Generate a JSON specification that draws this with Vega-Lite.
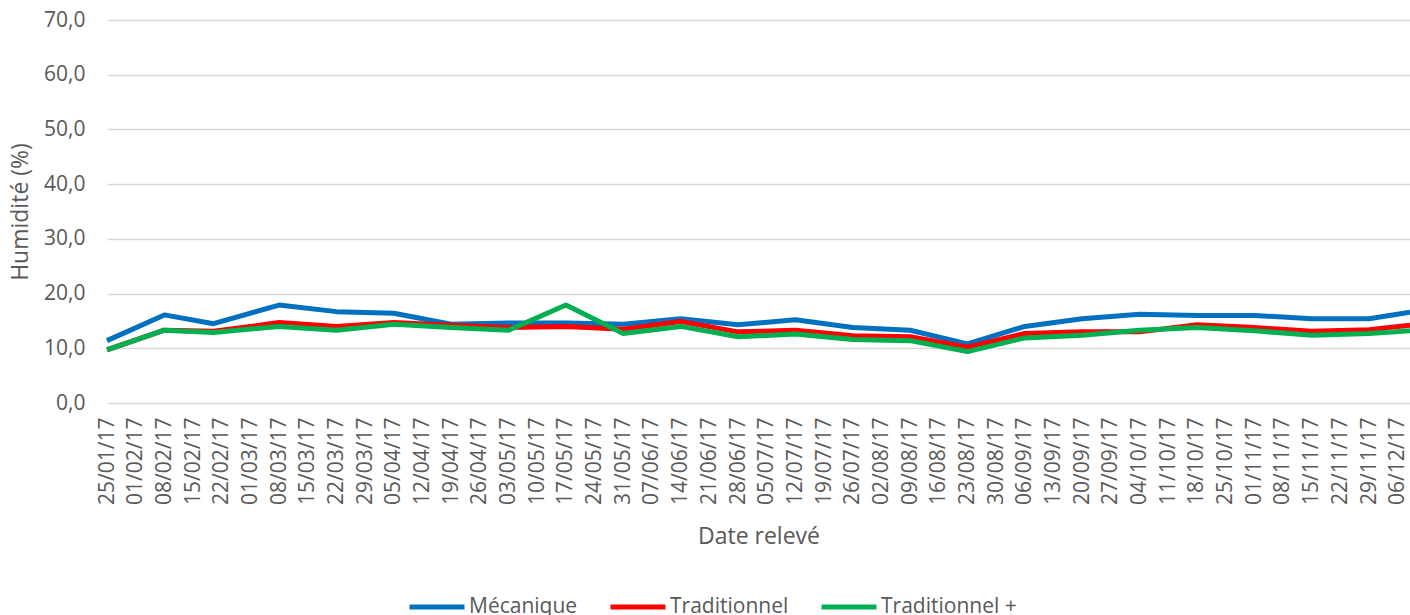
{
  "$schema": "https://vega.github.io/schema/vega-lite/v6.json",
  "width": 1303,
  "height": 383,
  "autosize": {"type": "none"},
  "padding": {"left": 107, "top": 20, "right": 0, "bottom": 212},
  "background": "white",
  "config": {
    "view": {"stroke": null},
    "font": "Open Sans"
  },
  "data": {
    "values": [
      {"date": "2017-01-25", "serie": "Mécanique", "value": 11.4},
      {"date": "2017-02-08", "serie": "Mécanique", "value": 16.1},
      {"date": "2017-02-20", "serie": "Mécanique", "value": 14.5},
      {"date": "2017-03-08", "serie": "Mécanique", "value": 17.9},
      {"date": "2017-03-22", "serie": "Mécanique", "value": 16.7},
      {"date": "2017-04-05", "serie": "Mécanique", "value": 16.4},
      {"date": "2017-04-19", "serie": "Mécanique", "value": 14.4},
      {"date": "2017-05-03", "serie": "Mécanique", "value": 14.6},
      {"date": "2017-05-17", "serie": "Mécanique", "value": 14.6},
      {"date": "2017-05-31", "serie": "Mécanique", "value": 14.4},
      {"date": "2017-06-14", "serie": "Mécanique", "value": 15.4},
      {"date": "2017-06-28", "serie": "Mécanique", "value": 14.3},
      {"date": "2017-07-12", "serie": "Mécanique", "value": 15.2},
      {"date": "2017-07-26", "serie": "Mécanique", "value": 13.8},
      {"date": "2017-08-09", "serie": "Mécanique", "value": 13.3},
      {"date": "2017-08-23", "serie": "Mécanique", "value": 10.8},
      {"date": "2017-09-06", "serie": "Mécanique", "value": 14.0},
      {"date": "2017-09-20", "serie": "Mécanique", "value": 15.4},
      {"date": "2017-10-04", "serie": "Mécanique", "value": 16.2},
      {"date": "2017-10-18", "serie": "Mécanique", "value": 16.0},
      {"date": "2017-11-01", "serie": "Mécanique", "value": 16.0},
      {"date": "2017-11-15", "serie": "Mécanique", "value": 15.4},
      {"date": "2017-11-29", "serie": "Mécanique", "value": 15.4},
      {"date": "2017-12-09", "serie": "Mécanique", "value": 16.6},
      {"date": "2017-01-25", "serie": "Traditionnel", "value": 9.7},
      {"date": "2017-02-08", "serie": "Traditionnel", "value": 13.3},
      {"date": "2017-02-20", "serie": "Traditionnel", "value": 13.1},
      {"date": "2017-03-08", "serie": "Traditionnel", "value": 14.7},
      {"date": "2017-03-22", "serie": "Traditionnel", "value": 14.0},
      {"date": "2017-04-05", "serie": "Traditionnel", "value": 14.7},
      {"date": "2017-04-19", "serie": "Traditionnel", "value": 14.2},
      {"date": "2017-05-03", "serie": "Traditionnel", "value": 13.8},
      {"date": "2017-05-17", "serie": "Traditionnel", "value": 14.0},
      {"date": "2017-05-31", "serie": "Traditionnel", "value": 13.5},
      {"date": "2017-06-14", "serie": "Traditionnel", "value": 14.9},
      {"date": "2017-06-28", "serie": "Traditionnel", "value": 13.0},
      {"date": "2017-07-12", "serie": "Traditionnel", "value": 13.3},
      {"date": "2017-07-26", "serie": "Traditionnel", "value": 12.3},
      {"date": "2017-08-09", "serie": "Traditionnel", "value": 12.1},
      {"date": "2017-08-23", "serie": "Traditionnel", "value": 10.2},
      {"date": "2017-09-06", "serie": "Traditionnel", "value": 12.7},
      {"date": "2017-09-20", "serie": "Traditionnel", "value": 13.0},
      {"date": "2017-10-04", "serie": "Traditionnel", "value": 13.0},
      {"date": "2017-10-18", "serie": "Traditionnel", "value": 14.3},
      {"date": "2017-11-01", "serie": "Traditionnel", "value": 13.8},
      {"date": "2017-11-15", "serie": "Traditionnel", "value": 13.1},
      {"date": "2017-11-29", "serie": "Traditionnel", "value": 13.4},
      {"date": "2017-12-09", "serie": "Traditionnel", "value": 14.2},
      {"date": "2017-01-25", "serie": "Traditionnel +", "value": 9.7},
      {"date": "2017-02-08", "serie": "Traditionnel +", "value": 13.3},
      {"date": "2017-02-20", "serie": "Traditionnel +", "value": 12.9},
      {"date": "2017-03-08", "serie": "Traditionnel +", "value": 14.0},
      {"date": "2017-03-22", "serie": "Traditionnel +", "value": 13.3},
      {"date": "2017-04-05", "serie": "Traditionnel +", "value": 14.4},
      {"date": "2017-04-19", "serie": "Traditionnel +", "value": 13.8},
      {"date": "2017-05-03", "serie": "Traditionnel +", "value": 13.3},
      {"date": "2017-05-17", "serie": "Traditionnel +", "value": 17.9},
      {"date": "2017-05-31", "serie": "Traditionnel +", "value": 12.7},
      {"date": "2017-06-14", "serie": "Traditionnel +", "value": 14.0},
      {"date": "2017-06-28", "serie": "Traditionnel +", "value": 12.1},
      {"date": "2017-07-12", "serie": "Traditionnel +", "value": 12.6},
      {"date": "2017-07-26", "serie": "Traditionnel +", "value": 11.6},
      {"date": "2017-08-09", "serie": "Traditionnel +", "value": 11.4},
      {"date": "2017-08-23", "serie": "Traditionnel +", "value": 9.4},
      {"date": "2017-09-06", "serie": "Traditionnel +", "value": 11.9},
      {"date": "2017-09-20", "serie": "Traditionnel +", "value": 12.4},
      {"date": "2017-10-04", "serie": "Traditionnel +", "value": 13.3},
      {"date": "2017-10-18", "serie": "Traditionnel +", "value": 13.8},
      {"date": "2017-11-01", "serie": "Traditionnel +", "value": 13.2},
      {"date": "2017-11-15", "serie": "Traditionnel +", "value": 12.4},
      {"date": "2017-11-29", "serie": "Traditionnel +", "value": 12.7},
      {"date": "2017-12-09", "serie": "Traditionnel +", "value": 13.2}
    ]
  },
  "mark": {"type": "line", "strokeWidth": 5, "strokeJoin": "round", "strokeCap": "butt"},
  "encoding": {
    "x": {
      "field": "date",
      "type": "temporal",
      "scale": {
        "type": "utc",
        "domain": [
          {"year": 2017, "month": 1, "date": 25, "utc": true},
          {"year": 2017, "month": 12, "date": 9, "utc": true}
        ],
        "nice": false
      },
      "axis": {
        "title": "Date relevé",
        "titleFontSize": 23,
        "titleFontWeight": "normal",
        "titleColor": "#595959",
        "titleX": 651.5,
        "titleY": 133,
        "titleBaseline": "middle",
        "titleAlign": "center",
        "format": "%d/%m/%y",
        "labelAngle": 270,
        "labelAlign": "right",
        "labelBaseline": "middle",
        "labelFontSize": 21,
        "labelColor": "#595959",
        "labelPadding": 14,
        "labelOverlap": false,
        "labelBound": false,
        "labelFlush": false,
        "ticks": false,
        "domain": false,
        "grid": false,
        "values": [
          {"year": 2017, "month": 1, "date": 25, "utc": true},
          {"year": 2017, "month": 2, "date": 1, "utc": true},
          {"year": 2017, "month": 2, "date": 8, "utc": true},
          {"year": 2017, "month": 2, "date": 15, "utc": true},
          {"year": 2017, "month": 2, "date": 22, "utc": true},
          {"year": 2017, "month": 3, "date": 1, "utc": true},
          {"year": 2017, "month": 3, "date": 8, "utc": true},
          {"year": 2017, "month": 3, "date": 15, "utc": true},
          {"year": 2017, "month": 3, "date": 22, "utc": true},
          {"year": 2017, "month": 3, "date": 29, "utc": true},
          {"year": 2017, "month": 4, "date": 5, "utc": true},
          {"year": 2017, "month": 4, "date": 12, "utc": true},
          {"year": 2017, "month": 4, "date": 19, "utc": true},
          {"year": 2017, "month": 4, "date": 26, "utc": true},
          {"year": 2017, "month": 5, "date": 3, "utc": true},
          {"year": 2017, "month": 5, "date": 10, "utc": true},
          {"year": 2017, "month": 5, "date": 17, "utc": true},
          {"year": 2017, "month": 5, "date": 24, "utc": true},
          {"year": 2017, "month": 5, "date": 31, "utc": true},
          {"year": 2017, "month": 6, "date": 7, "utc": true},
          {"year": 2017, "month": 6, "date": 14, "utc": true},
          {"year": 2017, "month": 6, "date": 21, "utc": true},
          {"year": 2017, "month": 6, "date": 28, "utc": true},
          {"year": 2017, "month": 7, "date": 5, "utc": true},
          {"year": 2017, "month": 7, "date": 12, "utc": true},
          {"year": 2017, "month": 7, "date": 19, "utc": true},
          {"year": 2017, "month": 7, "date": 26, "utc": true},
          {"year": 2017, "month": 8, "date": 2, "utc": true},
          {"year": 2017, "month": 8, "date": 9, "utc": true},
          {"year": 2017, "month": 8, "date": 16, "utc": true},
          {"year": 2017, "month": 8, "date": 23, "utc": true},
          {"year": 2017, "month": 8, "date": 30, "utc": true},
          {"year": 2017, "month": 9, "date": 6, "utc": true},
          {"year": 2017, "month": 9, "date": 13, "utc": true},
          {"year": 2017, "month": 9, "date": 20, "utc": true},
          {"year": 2017, "month": 9, "date": 27, "utc": true},
          {"year": 2017, "month": 10, "date": 4, "utc": true},
          {"year": 2017, "month": 10, "date": 11, "utc": true},
          {"year": 2017, "month": 10, "date": 18, "utc": true},
          {"year": 2017, "month": 10, "date": 25, "utc": true},
          {"year": 2017, "month": 11, "date": 1, "utc": true},
          {"year": 2017, "month": 11, "date": 8, "utc": true},
          {"year": 2017, "month": 11, "date": 15, "utc": true},
          {"year": 2017, "month": 11, "date": 22, "utc": true},
          {"year": 2017, "month": 11, "date": 29, "utc": true},
          {"year": 2017, "month": 12, "date": 6, "utc": true}
        ]
      }
    },
    "y": {
      "field": "value",
      "type": "quantitative",
      "scale": {"domain": [0, 70], "nice": false},
      "axis": {
        "title": "Humidité (%)",
        "titleFontSize": 23,
        "titleFontWeight": "normal",
        "titleColor": "#595959",
        "titleAngle": 270,
        "titleX": -87,
        "titleY": 191.5,
        "titleBaseline": "middle",
        "titleAlign": "center",
        "values": [0, 10, 20, 30, 40, 50, 60, 70],
        "labelExpr": "replace(format(datum.value, '.1f'), '.', ',')",
        "labelFontSize": 21,
        "labelColor": "#595959",
        "labelPadding": 22,
        "ticks": false,
        "domain": false,
        "grid": true,
        "gridColor": "#d9d9d9",
        "gridWidth": 1.5
      }
    },
    "color": {
      "field": "serie",
      "type": "nominal",
      "scale": {
        "domain": ["Mécanique", "Traditionnel", "Traditionnel +"],
        "range": ["#0070C0", "#FF0000", "#00B050"]
      },
      "legend": {
        "title": null,
        "orient": "none",
        "direction": "horizontal",
        "legendX": 300,
        "legendY": 557,
        "padding": 0,
        "symbolType": "stroke",
        "symbolSize": 3025,
        "symbolStrokeWidth": 5,
        "labelFontSize": 21,
        "labelColor": "#595959",
        "labelOffset": 2,
        "columnPadding": 22
      }
    }
  }
}
